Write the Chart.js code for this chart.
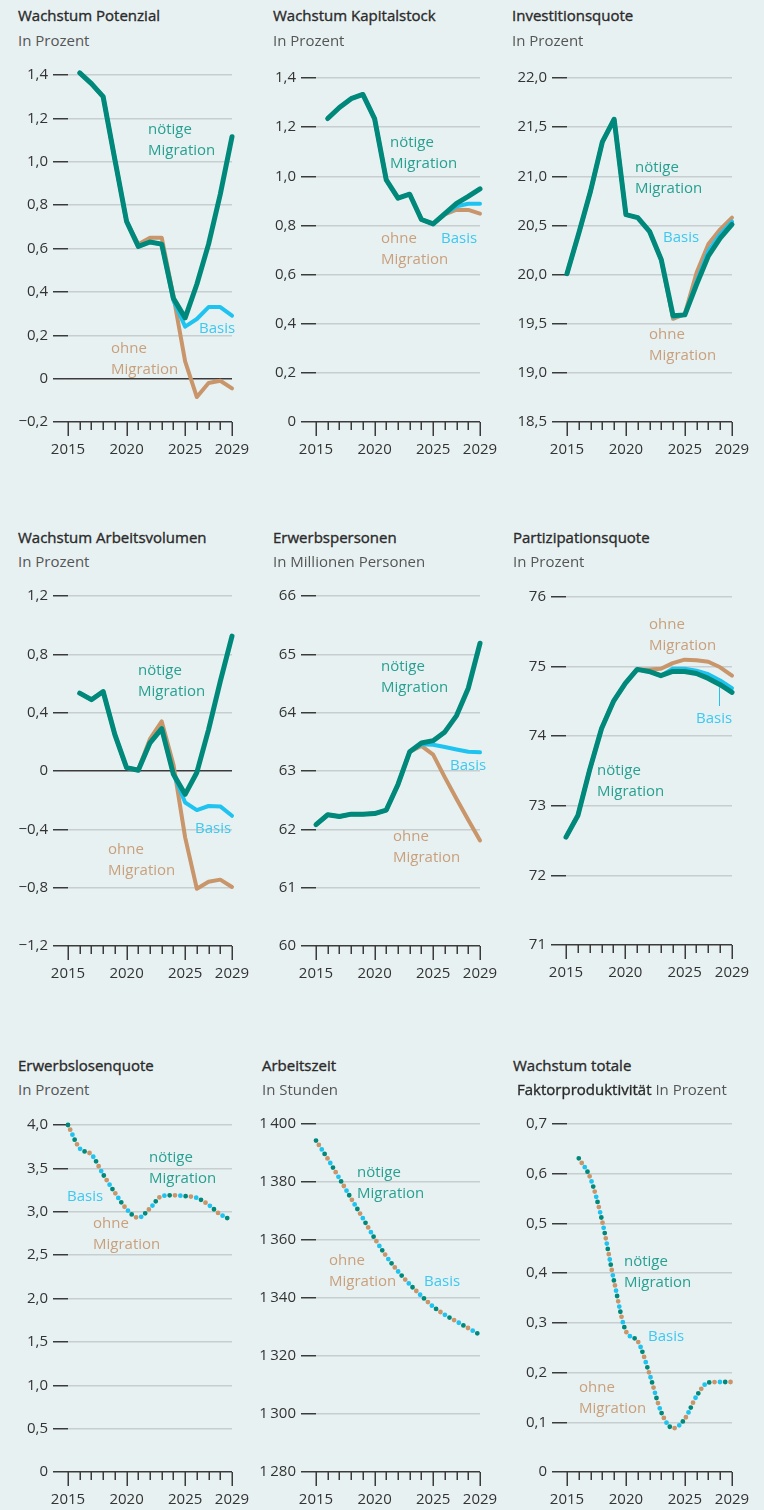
<!DOCTYPE html>
<html lang="de">
<head>
<meta charset="utf-8">
<title>Szenarien Migration</title>
<script src="https://cdn.jsdelivr.net/npm/chart.js@4.4.1/dist/chart.umd.min.js"></script>
<style>
  html, body { margin: 0; padding: 0; }
  body {
    width: 764px; height: 1510px; position: relative; overflow: hidden;
    background: #e8f1f2; font-family: "Open Sans", sans-serif;
  }
  .title { position: absolute; font-size: 15px; font-weight: 400; color: #2a2a2a; -webkit-text-stroke: 0.35px #2a2a2a; line-height: 20px; white-space: nowrap; }
  .sub { position: absolute; font-size: 15px; color: #555; line-height: 20px; white-space: nowrap; }
  .title .sub2 { -webkit-text-stroke: 0; color: #555; }
  .lab { position: absolute; font-size: 15px; line-height: 21px; white-space: pre; }
  canvas { position: absolute; }
</style>
</head>
<body>
<script>
const years = [2015, 2016, 2017, 2018, 2019, 2020, 2021, 2022, 2023, 2024, 2025, 2026, 2027, 2028, 2029];
const yearLabels = ["2015", "2020", "2025", "2029"];

// Wachstum Potenzial
const potNoetig = [null, 1.41, 1.36, 1.30, 1.01, 0.725, 0.61, 0.63, 0.62, 0.37, 0.28, 0.435, 0.62, 0.85, 1.115];
const potBasis  = [null, 1.41, 1.36, 1.30, 1.01, 0.725, 0.61, 0.63, 0.62, 0.36, 0.24, 0.275, 0.33, 0.33, 0.29];
const potOhne   = [null, 1.41, 1.36, 1.30, 1.01, 0.725, 0.62, 0.65, 0.65, 0.38, 0.08, -0.085, -0.02, -0.01, -0.045];

// Wachstum Kapitalstock
const kapNoetig = [null, 1.235, 1.28, 1.316, 1.333, 1.235, 0.985, 0.911, 0.927, 0.824, 0.806, 0.848, 0.89, 0.918, 0.949];
const kapBasis  = [null, 1.235, 1.28, 1.316, 1.333, 1.235, 0.985, 0.911, 0.927, 0.824, 0.806, 0.846, 0.878, 0.888, 0.888];
const kapOhne   = [null, 1.235, 1.28, 1.316, 1.333, 1.235, 0.985, 0.911, 0.927, 0.824, 0.806, 0.845, 0.864, 0.863, 0.848];

// Investitionsquote
const invNoetig = [20.01, 20.42, 20.85, 21.35, 21.58, 20.61, 20.58, 20.44, 20.15, 19.58, 19.59, 19.90, 20.19, 20.37, 20.51];
const invBasis  = [20.01, 20.42, 20.85, 21.35, 21.58, 20.61, 20.58, 20.44, 20.15, 19.57, 19.59, 19.93, 20.24, 20.41, 20.54];
const invOhne   = [20.01, 20.42, 20.85, 21.35, 21.58, 20.61, 20.58, 20.44, 20.15, 19.55, 19.60, 20.02, 20.31, 20.46, 20.58];

// Wachstum Arbeitsvolumen
const avNoetig = [null, 0.534, 0.489, 0.545, 0.25, 0.023, 0.005, 0.193, 0.29, -0.023, -0.16, -0.01, 0.284, 0.614, 0.925];
const avBasis  = [null, 0.534, 0.489, 0.545, 0.25, 0.023, 0.005, 0.193, 0.29, -0.023, -0.216, -0.268, -0.24, -0.243, -0.307];
const avOhne   = [null, 0.534, 0.489, 0.545, 0.25, 0.02, 0.01, 0.22, 0.34, 0.045, -0.455, -0.807, -0.76, -0.745, -0.795];

// Erwerbspersonen
const epNoetig = [62.08, 62.25, 62.22, 62.26, 62.26, 62.27, 62.33, 62.77, 63.33, 63.48, 63.52, 63.67, 63.95, 64.42, 65.19];
const epBasis  = [62.08, 62.25, 62.22, 62.26, 62.26, 62.27, 62.33, 62.77, 63.33, 63.46, 63.45, 63.41, 63.37, 63.33, 63.32];
const epOhne   = [62.08, 62.25, 62.22, 62.26, 62.26, 62.27, 62.33, 62.77, 63.33, 63.43, 63.28, 62.89, 62.52, 62.16, 61.81];

// Partizipationsquote
const pqNoetig = [72.55, 72.86, 73.52, 74.11, 74.50, 74.76, 74.96, 74.93, 74.87, 74.93, 74.93, 74.90, 74.83, 74.74, 74.63];
const pqBasis  = [72.55, 72.86, 73.52, 74.11, 74.50, 74.76, 74.96, 74.93, 74.87, 74.97, 74.97, 74.94, 74.89, 74.80, 74.69];
const pqOhne   = [72.55, 72.86, 73.52, 74.11, 74.50, 74.76, 74.96, 74.96, 74.97, 75.05, 75.10, 75.09, 75.07, 74.99, 74.87];

// Erwerbslosenquote
const elNoetig = [4.00, 3.73, 3.66, 3.43, 3.22, 3.03, 2.93, 3.04, 3.18, 3.19, 3.18, 3.16, 3.08, 2.97, 2.90];
const elBasis  = [4.00, 3.73, 3.66, 3.43, 3.22, 3.03, 2.93, 3.04, 3.18, 3.19, 3.18, 3.16, 3.08, 2.97, 2.91];
const elOhne   = [4.00, 3.73, 3.66, 3.43, 3.22, 3.03, 2.93, 3.04, 3.18, 3.19, 3.18, 3.16, 3.08, 2.97, 2.93];

// Arbeitszeit
const azNoetig = [1394.3, 1388.0, 1381.2, 1374.3, 1367.5, 1360.6, 1354.4, 1349.2, 1344.7, 1340.7, 1337.0, 1334.2, 1331.9, 1329.6, 1327.3];
const azBasis  = [1394.3, 1388.0, 1381.2, 1374.3, 1367.5, 1360.6, 1354.4, 1349.2, 1344.7, 1340.7, 1337.0, 1334.2, 1331.9, 1329.6, 1327.3];
const azOhne   = [1394.3, 1388.0, 1381.2, 1374.3, 1367.5, 1360.6, 1354.4, 1349.2, 1344.7, 1340.7, 1337.0, 1334.2, 1331.9, 1329.6, 1327.3];

// Wachstum totale Faktorproduktivitaet
const tfpNoetig = [null, 0.631, 0.59, 0.503, 0.383, 0.283, 0.263, 0.197, 0.12, 0.088, 0.107, 0.153, 0.18, 0.181, 0.181];
const tfpBasis  = [null, 0.631, 0.59, 0.503, 0.383, 0.283, 0.263, 0.197, 0.12, 0.088, 0.107, 0.153, 0.18, 0.181, 0.181];
const tfpOhne   = [null, 0.631, 0.59, 0.503, 0.383, 0.283, 0.263, 0.197, 0.12, 0.088, 0.107, 0.153, 0.18, 0.181, 0.181];

const TEAL = "#00897b", CYAN = "#1fc3f0", TAN = "#c9956a";
const TEAL_TXT = "#27a091", CYAN_TXT = "#3cc8f0", TAN_TXT = "#c9a07c";
const GRID = "#c6cecf", DARK = "#3b3b3b";
const FONT = "'Open Sans', sans-serif";

// x tick padding is added by Chart.js to the right padding, so PAD_R is wide
const AX_W = 62, AX_H = 46, PAD_T = 12, PAD_R = 40;

function dec(v) {
  if (Math.abs(v) < 1e-9) return "0";
  return (v < 0 ? "\u2212" : "") + Math.abs(v).toFixed(1).replace(".", ",");
}
function whole(v) {
  return String(Math.round(v)).replace(/(\d)(\d{3})$/, "$1\u2009$2");
}

// short and long tick marks under the x axis
const yearTicks = {
  id: "yearTicks",
  afterDraw(chart) {
    const x = chart.scales.x, a = chart.chartArea, c = chart.ctx;
    c.save();
    c.strokeStyle = DARK;
    c.lineWidth = 1.5;
    years.forEach((yr, i) => {
      const px = Math.round(x.getPixelForValue(i)) + 0.25;
      const len = yearLabels.includes(String(yr)) ? 14 : 8;
      c.beginPath();
      c.moveTo(px, a.bottom);
      c.lineTo(px, a.bottom + len);
      c.stroke();
    });
    c.restore();
  }
};

function addText(cls, html, x, y) {
  const d = document.createElement("div");
  d.className = cls;
  d.innerHTML = html;
  d.style.left = x + "px";
  d.style.top = y + "px";
  document.body.appendChild(d);
  return d;
}

function panel(p) {
  const g = p.area;
  const cv = document.createElement("canvas");
  const w = AX_W + (g.right - g.left) + PAD_R;
  const h = PAD_T + (g.bottom - g.top) + AX_H;
  cv.width = w; cv.height = h;
  cv.style.left = (g.left - AX_W) + "px";
  cv.style.top = (g.top - PAD_T) + "px";
  cv.style.width = w + "px"; cv.style.height = h + "px";
  document.body.appendChild(cv);

  // solid panels: teal on top; dotted panels: cyan on top
  const lines = p.dotted ? [
    [p.basis, CYAN, 4.8, 5.3],
    [p.noetig, TEAL, 4.8, 0],
    [p.ohne, TAN, 4.8, 10.7]
  ] : [
    [p.noetig, TEAL, 5, 0],
    [p.basis, CYAN, 4, 0],
    [p.ohne, TAN, 4, 0]
  ];
  const datasets = lines.map(([vals, col, bw, off]) => p.dotted ? {
    data: vals, borderColor: col, borderWidth: bw, pointRadius: 0,
    borderDash: [0, 16], borderDashOffset: off, borderCapStyle: "round",
    cubicInterpolationMode: "monotone", fill: false, clip: false
  } : {
    data: vals, borderColor: col, borderWidth: bw, pointRadius: 0,
    borderJoinStyle: "round", borderCapStyle: "round", tension: 0, fill: false, clip: false
  });

  const yMin = p.min;
  new Chart(cv, {
    type: "line",
    data: { labels: years.map(String), datasets },
    options: {
      responsive: false, animation: false, devicePixelRatio: 1,
      layout: { padding: { top: PAD_T, right: PAD_R, left: 0, bottom: 0 } },
      plugins: { legend: { display: false }, tooltip: { enabled: false } },
      scales: {
        x: {
          type: "category", offset: false,
          grid: { display: false, drawTicks: false },
          border: { display: false },
          ticks: {
            autoSkip: false, maxRotation: 0, padding: 19, color: "#333",
            font: { family: FONT, size: 15 },
            callback(v) {
              const l = this.getLabelForValue(v);
              return yearLabels.includes(l) ? l : "";
            }
          },
          afterFit(s) { s.height = AX_H; }
        },
        y: {
          min: p.min, max: p.max,
          grid: {
            color: c => (Math.abs(c.tick.value) < 1e-9 || Math.abs(c.tick.value - yMin) < 1e-9) ? DARK : GRID,
            tickColor: DARK, tickLength: 15, lineWidth: 1.5, tickWidth: 1.5
          },
          border: { display: false },
          ticks: {
            stepSize: p.step, padding: 5, color: "#333",
            font: { family: FONT, size: 15 },
            callback: v => p.fmt(v)
          },
          afterFit(s) { s.width = AX_W; }
        }
      }
    },
    plugins: [yearTicks]
  });

  p.titles.forEach(t => addText(t[0], t[1], t[2], t[3]));
  p.notes.forEach(([txt, x, y, col]) => {
    const d = addText("lab", txt, x, y - 10.5);
    d.style.color = col;
  });
}

const panels = [
  {
    area: { left: 68, right: 232, top: 73, bottom: 422 }, min: -0.2, max: 1.4, step: 0.2, fmt: dec,
    noetig: potNoetig, basis: potBasis, ohne: potOhne,
    titles: [["title", "Wachstum Potenzial", 18, 5], ["sub", "In Prozent", 18, 30]],
    notes: [["nötige\nMigration", 148, 128, TEAL_TXT], ["Basis", 199, 327, CYAN_TXT], ["ohne\nMigration", 111, 347, TAN_TXT]]
  },
  {
    area: { left: 316, right: 480, top: 76, bottom: 422 }, min: 0, max: 1.4, step: 0.2, fmt: dec,
    noetig: kapNoetig, basis: kapBasis, ohne: kapOhne,
    titles: [["title", "Wachstum Kapitalstock", 273, 5], ["sub", "In Prozent", 273, 30]],
    notes: [["nötige\nMigration", 390, 141, TEAL_TXT], ["Basis", 441, 237, CYAN_TXT], ["ohne\nMigration", 381, 237, TAN_TXT]]
  },
  {
    area: { left: 567, right: 732, top: 76, bottom: 422 }, min: 18.5, max: 22, step: 0.5, fmt: dec,
    noetig: invNoetig, basis: invBasis, ohne: invOhne,
    titles: [["title", "Investitionsquote", 512, 5], ["sub", "In Prozent", 512, 30]],
    notes: [["nötige\nMigration", 635, 166, TEAL_TXT], ["Basis", 663, 236, CYAN_TXT], ["ohne\nMigration", 649, 333, TAN_TXT]]
  },
  {
    area: { left: 68, right: 232, top: 594, bottom: 946 }, min: -1.2, max: 1.2, step: 0.4, fmt: dec,
    noetig: avNoetig, basis: avBasis, ohne: avOhne,
    titles: [["title", "Wachstum Arbeitsvolumen", 18, 527], ["sub", "In Prozent", 18, 551]],
    notes: [["nötige\nMigration", 138, 669, TEAL_TXT], ["Basis", 195, 827, CYAN_TXT], ["ohne\nMigration", 108, 848, TAN_TXT]]
  },
  {
    area: { left: 316, right: 480, top: 594, bottom: 946 }, min: 60, max: 66, step: 1, fmt: whole,
    noetig: epNoetig, basis: epBasis, ohne: epOhne,
    titles: [["title", "Erwerbspersonen", 273, 527], ["sub", "In Millionen Personen", 273, 551]],
    notes: [["nötige\nMigration", 381, 665, TEAL_TXT], ["Basis", 450, 764, CYAN_TXT], ["ohne\nMigration", 393, 835, TAN_TXT]]
  },
  {
    area: { left: 566, right: 732, top: 595, bottom: 945 }, min: 71, max: 76, step: 1, fmt: whole,
    noetig: pqNoetig, basis: pqBasis, ohne: pqOhne,
    titles: [["title", "Partizipationsquote", 513, 527], ["sub", "In Prozent", 513, 551]],
    notes: [["ohne\nMigration", 649, 623, TAN_TXT], ["Basis", 696, 717, CYAN_TXT], ["nötige\nMigration", 597, 769, TEAL_TXT]]
  },
  {
    area: { left: 68, right: 232, top: 1123, bottom: 1472 }, min: 0, max: 4, step: 0.5, fmt: dec, dotted: true,
    noetig: elNoetig, basis: elBasis, ohne: elOhne,
    titles: [["title", "Erwerbslosenquote", 18, 1055], ["sub", "In Prozent", 18, 1079]],
    notes: [["nötige\nMigration", 149, 1156, TEAL_TXT], ["Basis", 67, 1195, CYAN_TXT], ["ohne\nMigration", 93, 1222, TAN_TXT]]
  },
  {
    area: { left: 316, right: 480, top: 1122, bottom: 1472 }, min: 1280, max: 1400, step: 20, fmt: whole, dotted: true,
    noetig: azNoetig, basis: azBasis, ohne: azOhne,
    titles: [["title", "Arbeitszeit", 262, 1055], ["sub", "In Stunden", 262, 1079]],
    notes: [["nötige\nMigration", 357, 1171, TEAL_TXT], ["ohne\nMigration", 329, 1259, TAN_TXT], ["Basis", 424, 1280, CYAN_TXT]]
  },
  {
    area: { left: 567, right: 732, top: 1122, bottom: 1472 }, min: 0, max: 0.7, step: 0.1, fmt: dec, dotted: true,
    noetig: tfpNoetig, basis: tfpBasis, ohne: tfpOhne,
    titles: [["title", "Wachstum totale", 513, 1055],
             ["title", "Faktorproduktivität <span class=\"sub2\">In Prozent</span>", 517, 1079]],
    notes: [["nötige\nMigration", 624, 1260, TEAL_TXT], ["Basis", 648, 1335, CYAN_TXT], ["ohne\nMigration", 579, 1386, TAN_TXT]]
  }
];

panels.forEach(panel);

// leader line from the "Basis" label to its line (Partizipationsquote)
const lead = document.createElement("div");
lead.style.cssText = "position:absolute;left:719px;top:687px;width:1px;height:19px;background:" + CYAN + ";";
document.body.appendChild(lead);
</script>
</body>
</html>
